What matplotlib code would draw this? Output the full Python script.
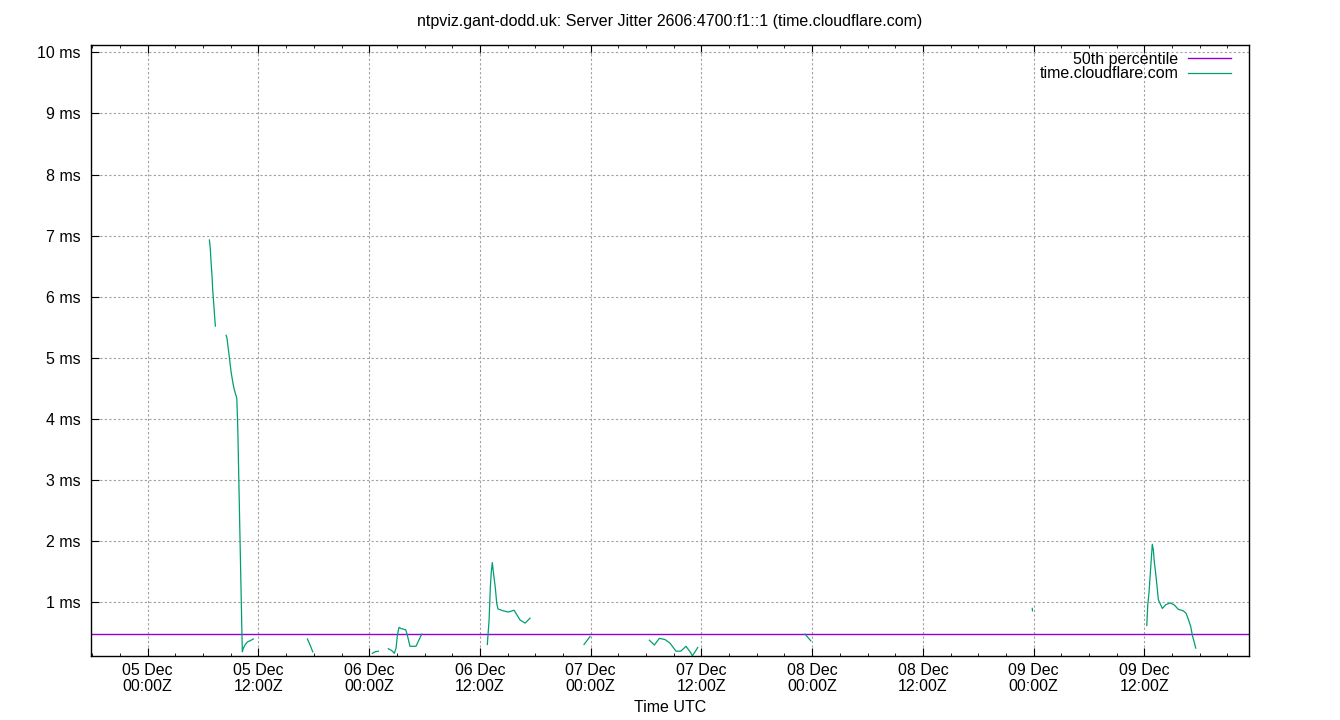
import numpy as np
import matplotlib
matplotlib.use("Agg")
from matplotlib import pyplot as plt
from matplotlib.ticker import MultipleLocator, FixedLocator

plt.rcParams['font.family'] = ['Liberation Sans', 'DejaVu Sans']

# hours since 05 Dec 00:00Z, NaN marks a gap in the data
nan = np.nan
hours = [6.68, 6.78, 6.86, 6.97, 7.04, 7.15, 7.26, 7.33, nan,
         8.49, 8.59, 8.70, 8.81, 8.92, 9.03, 9.14, 9.24, 9.35, 9.49, 9.65,
         9.75, 9.86, 9.97, 10.08, 10.19, 10.25, 10.36, 10.54, 10.73, 10.90,
         11.09, 11.44, nan,
         17.30, 17.51, 17.70, 17.88, nan,
         24.34, 24.63, 24.99, nan,
         26.07, 26.44, 26.72, 26.91, 27.05, 27.23, 27.45, 27.96, 28.13, 28.42,
         29.07, 29.32, 29.69, nan,
         36.80, 36.99, 37.13, 37.23, 37.34, 37.45, 37.67, 37.82, 37.96, 38.54,
         39.08, 39.70, 40.35, 40.89, 41.43, nan,
         47.28, 47.93, nan,
         54.36, 54.90, 55.44, 56.06, 56.60, 57.25, 57.76, 58.33, 58.77, 59.02,
         59.31, 59.60, nan,
         71.23, 71.85, nan,
         95.85, 95.88, nan,
         108.26, 108.37, 108.51, 108.62, 108.72, 108.86, 108.97, 109.08,
         109.23, 109.34, 109.52, 109.95, 110.32, 110.78, 111.22, 111.68,
         112.22, 112.52, 112.77, 113.03, 113.20, 113.38, 113.57]
jitter_ms = [6.93, 6.79, 6.57, 6.33, 6.11, 5.89, 5.65, 5.52, nan,
             5.37, 5.32, 5.18, 5.05, 4.91, 4.77, 4.67, 4.58, 4.50, 4.42, 4.34,
             3.89, 3.08, 2.25, 1.43, 0.61, 0.19, 0.25, 0.30, 0.34, 0.36,
             0.37, 0.40, nan,
             0.40, 0.33, 0.26, 0.19, nan,
             0.165, 0.19, 0.20, nan,
             0.24, 0.21, 0.165, 0.25, 0.46, 0.59, 0.57, 0.55, 0.46, 0.28,
             0.28, 0.36, 0.48, nan,
             0.31, 0.71, 1.26, 1.50, 1.65, 1.50, 1.23, 0.98, 0.89, 0.86,
             0.84, 0.87, 0.71, 0.66, 0.74, nan,
             0.31, 0.44, nan,
             0.38, 0.30, 0.41, 0.39, 0.33, 0.20, 0.20, 0.28, 0.19, 0.126,
             0.19, 0.26, nan,
             0.48, 0.37, nan,
             0.90, 0.86, nan,
             0.62, 0.96, 1.17, 1.42, 1.64, 1.95, 1.86, 1.66,
             1.47, 1.31, 1.04, 0.90, 0.96, 0.99, 0.96, 0.885,
             0.86, 0.82, 0.72, 0.60, 0.46, 0.36, 0.25]
percentile_50 = 0.48

tick_hours = [0, 12, 24, 36, 48, 60, 72, 84, 96, 108]
tick_labels = ['05 Dec\n00:00Z', '05 Dec\n12:00Z', '06 Dec\n00:00Z', '06 Dec\n12:00Z',
               '07 Dec\n00:00Z', '07 Dec\n12:00Z', '08 Dec\n00:00Z', '08 Dec\n12:00Z',
               '09 Dec\n00:00Z', '09 Dec\n12:00Z']
y_ticks = [1, 2, 3, 4, 5, 6, 7, 8, 9, 10]

fs = 11.5

fig = plt.figure(figsize=(13.4, 7.2), dpi=100)
ax = fig.add_axes([0.0677, 0.0893, 0.8646, 0.8482])

ax.axhline(percentile_50, color='#9400d3', lw=1.0, label='50th percentile')
ax.plot(hours, jitter_ms, color='#009e73', lw=0.9, label='time.cloudflare.com')

ax.set_xlim(-6.18, 119.37)
ax.set_ylim(0.126, 10.12)

ax.xaxis.set_major_locator(FixedLocator(tick_hours))
ax.set_xticklabels(tick_labels, linespacing=1.05)
ax.xaxis.set_minor_locator(MultipleLocator(3))
ax.set_yticks(y_ticks)
ax.set_yticklabels([f'{v} ms' for v in y_ticks])

ax.tick_params(axis='both', which='both', direction='in', labelsize=fs, color='black')
ax.tick_params(axis='x', which='major', length=5.5, top=True, pad=5.5)
ax.tick_params(axis='x', which='minor', length=2.5, top=True)
ax.tick_params(axis='y', which='major', length=5.5, right=False, pad=7)
for s in ax.spines.values():
    s.set_linewidth(1.0)

ax.grid(True, which='major', color='#a0a0a0', linestyle=(0, (2, 2)), lw=0.8)

ax.set_title('ntpviz.gant-dodd.uk: Server Jitter 2606:4700:f1::1 (time.cloudflare.com)',
             fontsize=fs, pad=13.5)
ax.set_xlabel('Time UTC', fontsize=fs, labelpad=4.5)

ax.legend(loc='upper right', bbox_to_anchor=(0.9842, 0.9885), frameon=False,
          markerfirst=False, fontsize=fs, handlelength=2.7, labelspacing=-0.05,
          borderaxespad=0, borderpad=0, handletextpad=0.6)

fig.savefig('out.png', dpi=100)
